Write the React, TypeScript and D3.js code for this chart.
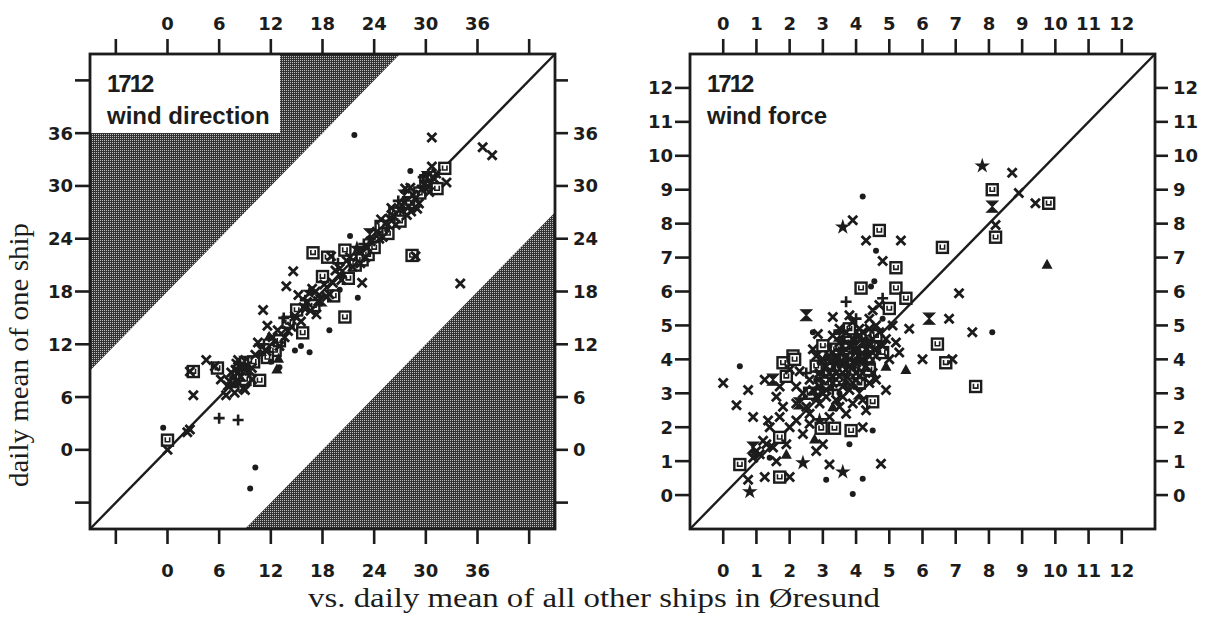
import React from 'react';
import * as d3 from 'd3';

type Pt = [number, number];

// ---- wind direction panel (1712) ----
const dirTicks = [-6, 0, 6, 12, 18, 24, 30, 36, 42];
const dirLabels = [0, 6, 12, 18, 24, 30, 36];

const dirCross: Pt[] = [
  [0, 0], [2.3, 2.0], [2.6, 2.3], [3.0, 6.2], [2.6, 8.9], [4.5, 10.2], [5.5, 9.5], [6.2, 8.0],
  [7.0, 7.3], [7.8, 6.5], [8.5, 8.3], [9.2, 9.5], [9.8, 8.0], [10.2, 10.8], [8.0, 9.8],
  [7.4, 8.8], [8.8, 7.0], [9.5, 9.0], [8.2, 10.2], [6.8, 6.2], [7.9, 9.1], [9.0, 6.8], [10.5, 12.2],
  [11.1, 15.9], [11.6, 14.1], [13.8, 18.6], [14.6, 20.3], [12.2, 12.8], [13.0, 11.8], [14.0, 13.5],
  [14.8, 15.2], [15.5, 14.6], [16.2, 16.8], [16.8, 18.3], [17.5, 16.9], [18.2, 18.8], [18.8, 17.7],
  [19.5, 20.4], [20.2, 19.3], [20.8, 21.5], [21.5, 20.8], [22.6, 19.0], [22.2, 22.6], [23.0, 21.9],
  [23.6, 23.7], [24.3, 24.8], [25.0, 24.2], [25.8, 26.3], [26.5, 25.6], [27.2, 27.8], [27.8, 26.7],
  [28.5, 29.0], [28.8, 22.0], [29.2, 28.0], [29.8, 30.2], [30.4, 29.3], [30.7, 35.5], [30.7, 32.2],
  [31.2, 31.4], [32.4, 30.4], [36.6, 34.4], [37.7, 33.5], [34.0, 18.9], [17.3, 15.4], [15.2, 17.6],
  [19.0, 22.0], [24.8, 26.2], [27.6, 29.7], [26.0, 27.5], [28.3, 27.1],
  [7.2, 7.8], [8.3, 7.6], [8.6, 9.4], [9.8, 9.3], [11.5, 11.2], [12.8, 13.6], [13.6, 12.8], [14.4, 14.0],
  [15.8, 16.2], [16.6, 15.8], [17.2, 18.0], [18.5, 17.4], [19.2, 19.0], [20.0, 20.6], [21.2, 21.9],
  [22.4, 21.2], [23.2, 23.0], [24.6, 24.0], [25.4, 25.8], [26.2, 26.6], [27.0, 27.3], [28.0, 27.6],
  [28.8, 28.6], [29.5, 29.6], [30.2, 30.0], [31.0, 30.8], [29.0, 27.4], [28.2, 29.8],
];
const dirSquare: Pt[] = [
  [0, 1.1], [3.0, 8.9], [5.8, 9.3], [10.7, 7.9], [8.6, 8.6], [12.5, 11.3], [11.6, 10.5], [13.0, 12.4],
  [14.0, 14.5], [15.7, 13.3], [16.9, 22.4], [18.6, 21.9], [20.6, 22.7], [20.6, 15.1], [17.0, 16.4],
  [19.3, 17.5], [21.8, 21.0], [22.6, 21.6], [23.3, 22.2], [24.0, 23.0], [21.0, 19.5], [24.8, 25.4],
  [25.6, 24.6], [26.4, 26.9], [28.4, 22.1], [29.3, 29.2], [31.3, 29.7], [32.2, 32.0], [28.0, 28.1],
  [30.0, 30.6], [27.0, 26.0], [18.0, 19.7], [15.0, 15.9], [10.0, 10.0], [9.0, 8.0],
];
const dirDot: Pt[] = [
  [-0.5, 2.5], [10.2, -2.0], [9.6, -4.4], [21.2, 24.3], [22.1, 17.3], [18.8, 13.6], [15.5, 11.8],
  [14.8, 11.3], [16.5, 11.1], [21.7, 35.8], [28.2, 31.7], [13.0, 9.4], [20.0, 18.2], [25.5, 25.0],
  [7.5, 8.2], [12.0, 10.0],
];
const dirPlus: Pt[] = [
  [6.0, 3.6], [8.2, 3.4], [29.7, 31.0], [16.0, 17.0], [13.5, 15.0], [22.8, 23.4], [26.8, 28.3],
  [11.2, 12.0], [19.8, 21.2],
];
const dirTri: Pt[] = [[12.7, 9.2], [12.9, 10.4], [11.8, 12.9], [20.3, 20.0], [7.8, 7.5]];
const dirBow: Pt[] = [[9.0, 10.0], [17.8, 17.0], [23.5, 24.5], [27.5, 28.9], [10.8, 11.4], [30.2, 31.0]];
const dirHex: Pt[] = [[8.4, 9.2], [16.5, 17.9], [22.0, 22.9]];

// ---- wind force panel (1712) ----
const forceTicks = [0, 1, 2, 3, 4, 5, 6, 7, 8, 9, 10, 11, 12];

const forceCross: Pt[] = [
  [0.0, 3.3], [0.75, 3.1], [0.4, 2.65], [0.9, 2.3], [1.35, 2.2], [1.4, 2.0], [0.75, 0.45], [1.25, 0.53],
  [2.0, 0.53], [2.8, 1.3], [3.2, 0.9], [4.2, 2.0], [4.3, 2.5], [4.75, 0.92], [3.9, 8.1], [4.3, 7.5],
  [5.35, 7.5], [4.8, 6.9], [3.3, 5.25], [4.5, 5.45], [6.8, 5.2], [7.5, 4.8], [6.0, 4.0], [6.9, 4.0],
  [7.1, 5.95], [8.7, 9.5], [8.9, 8.9], [9.4, 8.6], [8.2, 7.96], [1.0, 1.3], [1.8, 2.6], [2.2, 3.2],
  [2.6, 2.4], [2.9, 3.6], [3.1, 2.9], [3.4, 3.9], [3.6, 3.2], [3.8, 4.4], [4.0, 3.6], [4.2, 4.8],
  [4.4, 4.1], [4.6, 3.4], [4.9, 4.6], [5.1, 5.0], [5.3, 4.2], [2.4, 1.8], [3.0, 1.5], [3.7, 2.4],
  [3.9, 5.1], [4.7, 5.6], [2.0, 3.7], [1.6, 2.9], [2.7, 4.3], [3.3, 4.7], [5.6, 4.9], [1.2, 1.6],
  [3.5, 3.5], [2.9, 3.2], [3.1, 3.8], [3.3, 4.2], [3.5, 4.5], [3.7, 3.7], [3.8, 4.0], [4.0, 4.3],
  [4.1, 3.5], [4.2, 4.5], [4.3, 3.8], [4.4, 4.9], [4.5, 3.6], [4.6, 4.3], [4.7, 4.8], [3.2, 3.4],
  [3.4, 2.8], [3.6, 3.9], [3.9, 3.3], [4.0, 3.9], [4.1, 4.1], [3.0, 4.0], [2.8, 2.9], [2.5, 2.6],
  [2.2, 2.2], [2.0, 2.0], [1.9, 1.5], [1.5, 1.4], [1.1, 1.2], [3.5, 4.9], [3.8, 5.3], [4.4, 5.2],
  [4.6, 5.0], [5.0, 4.0], [5.2, 4.5], [3.3, 3.5], [3.6, 4.2], [4.9, 3.1], [4.2, 2.8], [3.9, 2.7],
  [2.6, 3.4], [1.25, 3.4], [1.7, 3.2], [2.3, 3.65], [2.85, 4.75],
  [3.0, 3.0], [3.2, 3.6], [3.4, 4.0], [3.6, 3.6], [3.8, 3.8], [4.0, 4.2], [4.2, 4.0], [4.4, 4.4],
  [3.5, 4.2], [3.7, 4.1], [3.9, 4.6], [4.1, 4.7], [4.3, 4.3], [4.5, 4.6], [3.1, 3.1], [3.3, 3.3],
  [2.7, 3.1], [2.9, 2.7], [3.6, 2.9], [3.8, 3.1], [4.0, 3.4], [4.2, 3.6], [4.4, 3.3], [3.4, 3.6],
  [3.9, 4.4], [4.6, 4.1], [4.8, 4.4], [4.1, 4.9], [3.7, 4.8], [3.2, 4.1], [2.8, 4.1], [2.4, 3.0],
  [2.2, 2.7], [2.6, 2.1], [3.2, 2.3], [3.5, 2.6], [1.7, 2.3], [1.3, 1.5], [0.9, 1.1], [1.6, 1.0],
];
const forceSquare: Pt[] = [
  [0.5, 0.9], [1.7, 1.7], [1.7, 0.53], [2.95, 1.97], [3.35, 1.97], [3.85, 1.9], [4.5, 2.75], [8.1, 9.0],
  [9.8, 8.6], [8.2, 7.6], [4.7, 7.8], [6.6, 7.3], [5.2, 6.7], [4.15, 6.1], [5.2, 6.1], [5.5, 5.8],
  [5.0, 5.5], [6.45, 4.45], [6.7, 3.9], [7.6, 3.2], [1.8, 3.9], [2.1, 4.1], [3.0, 4.4], [3.6, 4.0],
  [4.1, 3.3], [4.5, 4.4], [2.6, 3.0], [3.2, 3.7], [4.0, 4.7], [4.8, 4.2], [3.4, 4.3], [3.7, 4.5],
  [4.2, 4.2], [3.9, 3.6], [3.1, 3.3], [4.4, 3.7], [2.8, 3.8], [3.5, 3.4], [4.6, 4.7], [3.8, 4.9],
  [2.15, 4.0], [1.9, 3.5],
];
const forceDot: Pt[] = [
  [4.2, 8.8], [4.6, 7.2], [4.55, 6.3], [4.45, 6.15], [8.1, 4.8], [0.5, 3.8], [3.1, 0.45], [3.9, 0.03],
  [4.2, 0.48], [4.5, 1.9], [3.8, 1.5], [3.5, 3.0], [4.2, 3.9], [2.8, 3.4], [3.9, 4.2], [4.8, 5.2],
  [3.6, 4.6], [1.4, 1.1], [3.2, 4.4], [3.5, 3.8], [4.0, 4.0], [4.3, 4.6], [3.7, 3.3], [2.9, 3.9],
  [4.5, 3.9], [3.4, 4.8], [2.7, 4.8],
];
const forcePlus: Pt[] = [[3.7, 5.7], [4.8, 5.8], [2.5, 3.6], [3.3, 3.1], [4.0, 5.2], [4.3, 4.2]];
const forceTri: Pt[] = [[9.75, 6.8], [5.5, 3.7], [2.75, 1.65], [3.3, 2.6], [1.9, 1.2], [4.9, 3.8], [3.1, 4.1]];
const forceBow: Pt[] = [
  [2.5, 5.3], [6.2, 5.2], [8.1, 8.5], [0.9, 1.4], [1.5, 3.4], [3.6, 4.4], [4.1, 3.0], [2.3, 2.7],
  [3.3, 3.8], [4.0, 4.4], [3.7, 3.4], [4.3, 4.0], [2.9, 3.5], [3.5, 4.7],
];
const forceHex: Pt[] = [[7.8, 9.7], [3.6, 7.9], [0.8, 0.1], [2.4, 0.95], [3.6, 0.68], [3.9, 3.8], [2.9, 2.2]];

const INK = '#1c1c1c';
const TICK_FONT = '"DejaVu Sans", sans-serif';
const hexPath = d3.symbol().type(d3.symbolStar).size(75)() as string;

type Sets = {
  cross: Pt[]; square: Pt[]; dot: Pt[]; plus: Pt[]; tri: Pt[]; bow: Pt[]; hex: Pt[];
};

function Marks({ sets, x, y }: { sets: Sets; x: d3.ScaleLinear<number, number>; y: d3.ScaleLinear<number, number> }) {
  const t = (d: Pt) => `translate(${x(d[0])},${y(d[1])})`;
  return (
    <g>
      {/* squares underneath, the rest stacked on top */}
      {sets.square.map((d, i) => (
        <g key={'s' + i} transform={t(d)}>
          <rect x={-5.5} y={-5.5} width={11} height={11} fill="#fff" stroke={INK} strokeWidth={2.4} />
          <path d="M-2.2,-2.8V1.6H2.2V-2.8" fill="none" stroke={INK} strokeWidth={1.6} />
        </g>
      ))}
      {sets.cross.map((d, i) => (
        <path key={'c' + i} transform={t(d)} d="M-4.5,-4.5L4.5,4.5M-4.5,4.5L4.5,-4.5" stroke={INK} strokeWidth={2.8} fill="none" />
      ))}
      {sets.plus.map((d, i) => (
        <path key={'p' + i} transform={t(d)} d="M-5.5,0H5.5M0,-5.5V5.5" stroke={INK} strokeWidth={2.6} fill="none" />
      ))}
      {sets.dot.map((d, i) => (
        <circle key={'d' + i} transform={t(d)} r={3} fill={INK} />
      ))}
      {sets.tri.map((d, i) => (
        <path key={'t' + i} transform={t(d)} d="M0,-5.5L5.5,4.5H-5.5Z" fill={INK} />
      ))}
      {sets.bow.map((d, i) => (
        <path key={'b' + i} transform={t(d)} d="M-5.5,-5.5H5.5L-5.5,5.5H5.5Z" fill={INK} stroke={INK} strokeWidth={1.2} />
      ))}
      {sets.hex.map((d, i) => (
        <path key={'h' + i} transform={t(d)} d={hexPath} fill={INK} />
      ))}
    </g>
  );
}

type PanelProps = {
  left: number; top: number; width: number; height: number;
  domain: [number, number]; ticks: number[]; labels: number[];
  sets: Sets; band: number | null; title: string; boxWidth: number;
};

function Panel({ left, top, width, height, domain, ticks, labels, sets, band, title, boxWidth }: PanelProps) {
  const x = d3.scaleLinear().domain(domain).range([left, left + width]);
  const y = d3.scaleLinear().domain(domain).range([top + height, top]);
  const [lo, hi] = domain;
  const right = left + width;
  const bottom = top + height;
  const tickLen = 15;
  const poly = (pts: Pt[]) => 'M' + pts.map((p) => `${x(p[0])},${y(p[1])}`).join('L') + 'Z';

  return (
    <g>
      {band !== null && (
        <>
          <path d={poly([[lo, lo + band], [lo, hi], [hi - band, hi]])} fill="url(#stipple)" />
          <path d={poly([[lo + band, lo], [hi, lo], [hi, hi - band]])} fill="url(#stipple)" />
          <rect x={left} y={top} width={boxWidth} height={79} fill="#fff" />
        </>
      )}
      <text x={left + 17} y={top + 38} fontFamily='"Liberation Sans", Arial, sans-serif' fontWeight="bold"
        fontSize={24} fill={INK} letterSpacing={-2}>1712</text>
      <text x={left + 17} y={top + 70} fontFamily='"Liberation Sans", Arial, sans-serif' fontWeight="bold"
        fontSize={24} fill={INK}>{title}</text>

      <line x1={x(lo)} y1={y(lo)} x2={x(hi)} y2={y(hi)} stroke={INK} strokeWidth={2.4} />
      <Marks sets={sets} x={x} y={y} />

      <rect x={left} y={top} width={width} height={height} fill="none" stroke={INK} strokeWidth={2.8} />

      {ticks.map((v) => (
        <g key={v} stroke={INK} strokeWidth={2.6}>
          <line x1={x(v)} x2={x(v)} y1={top} y2={top - tickLen} />
          <line x1={x(v)} x2={x(v)} y1={bottom} y2={bottom + tickLen} />
          <line y1={y(v)} y2={y(v)} x1={left} x2={left - tickLen} />
          <line y1={y(v)} y2={y(v)} x1={right} x2={right + 13} />
        </g>
      ))}
      <g fontFamily={TICK_FONT} fontWeight="bold" fontSize={18} fill={INK}>
        {labels.map((v) => (
          <g key={v}>
            <text x={x(v)} y={30} textAnchor="middle">{v}</text>
            <text x={x(v)} y={577} textAnchor="middle">{v}</text>
            <text x={left - 17} y={y(v)} dy="0.36em" textAnchor="end">{v}</text>
            <text x={right + 18} y={y(v)} dy="0.36em" textAnchor="start">{v}</text>
          </g>
        ))}
      </g>
    </g>
  );
}

export default function App() {
  const dirSets: Sets = { cross: dirCross, square: dirSquare, dot: dirDot, plus: dirPlus, tri: dirTri, bow: dirBow, hex: dirHex };
  const forceSets: Sets = { cross: forceCross, square: forceSquare, dot: forceDot, plus: forcePlus, tri: forceTri, bow: forceBow, hex: forceHex };
  return (
    <svg width={1206} height={621} style={{ position: 'absolute', left: 0, top: 0, background: '#fff' }}>
      <defs>
        <pattern id="stipple" width={2} height={2} patternUnits="userSpaceOnUse">
          <rect width={2} height={2} fill="#333" />
          <rect width={1} height={1} fill="#c0c0c0" />
        </pattern>
      </defs>
      <rect width={1206} height={621} fill="#fff" />
      <Panel left={90} top={54} width={465} height={475} domain={[-9, 45]} ticks={dirTicks} labels={dirLabels}
        sets={dirSets} band={18} title="wind direction" boxWidth={190} />
      <Panel left={690} top={54} width={465} height={475} domain={[-1, 13]} ticks={forceTicks} labels={forceTicks}
        sets={forceSets} band={null} title="wind force" boxWidth={0} />
      <text transform="translate(28,355) rotate(-90)" textAnchor="middle" fontFamily='"Liberation Serif", serif'
        fontSize={27} fill={INK} textLength={264} lengthAdjust="spacingAndGlyphs">daily mean of one ship</text>
      <text x={594} y={607} textAnchor="middle" fontFamily='"Liberation Serif", serif' fontSize={27} fill={INK}
        textLength={572} lengthAdjust="spacingAndGlyphs">vs. daily mean of all other ships in Øresund</text>
    </svg>
  );
}
